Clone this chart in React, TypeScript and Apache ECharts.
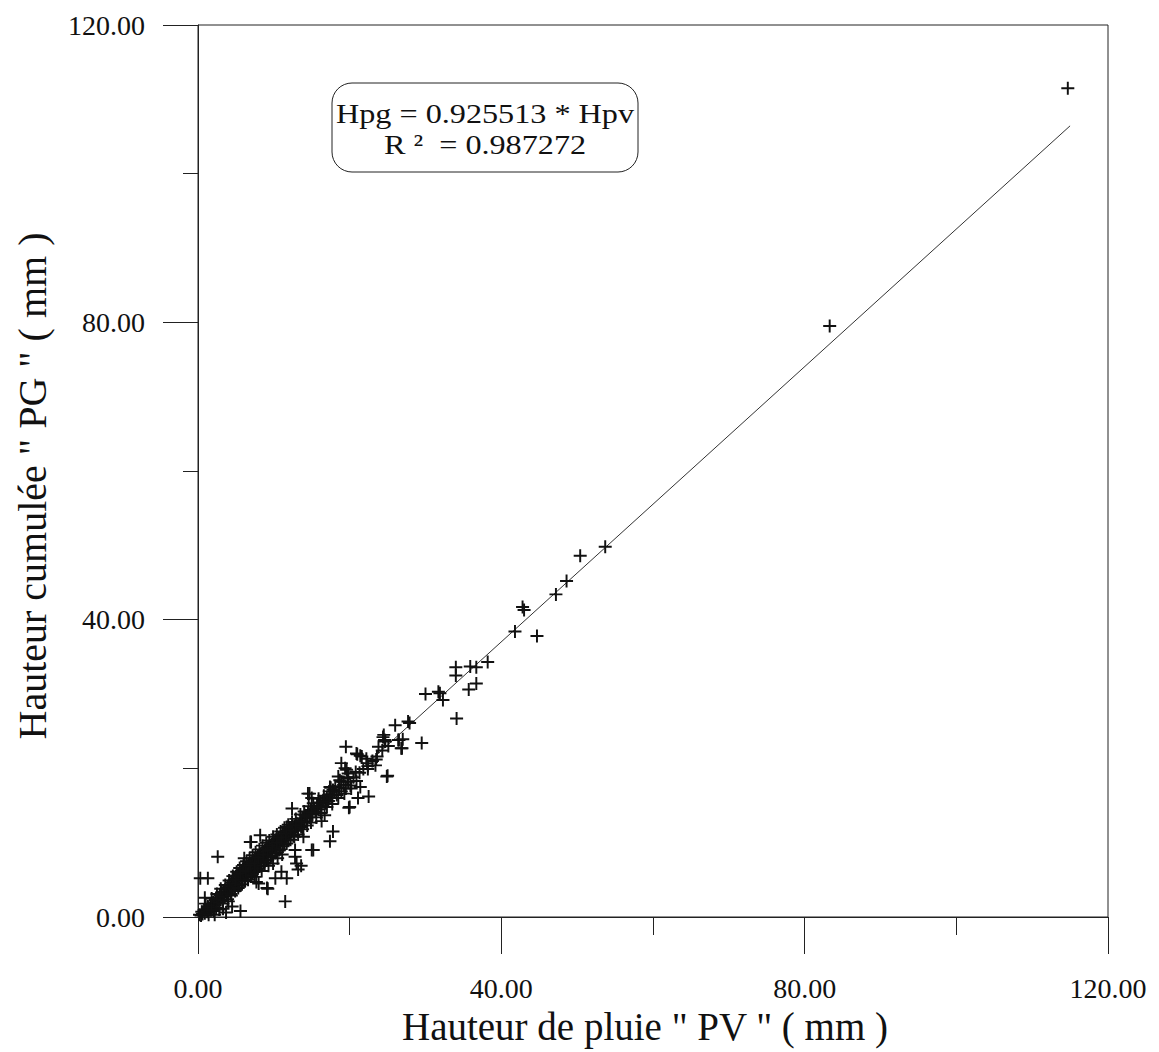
import React, { useEffect, useRef } from "react";
import * as echarts from "echarts";

// Regression reported on the chart
const slope = 0.925513;
const r2 = 0.987272;
const fitX = [0, 115];

const xTicks = [0, 40, 80, 120];
const yTicks = [0, 40, 80, 120];

// Dense band near the origin [PV, PG]
const bandLow: number[][] = [
  [0.2, 0.3], [0.4, 0.2], [0.5, 0.7], [0.6, 0.4], [0.8, 0.9], [0.9, 0.5], [1.1, 1.0], [1.2, 0.7],
  [1.3, 1.4], [1.5, 1.1], [1.6, 0.9], [1.7, 1.6], [1.9, 1.3], [2.0, 2.0], [2.2, 1.6], [2.3, 2.3],
  [2.4, 1.2], [2.5, 2.0], [2.7, 2.6], [2.8, 1.9], [2.9, 2.9], [3.0, 2.3], [3.1, 3.3], [3.2, 2.7],
  [3.3, 1.1], [3.4, 3.4], [3.5, 2.8], [3.6, 3.7], [3.7, 0.6], [3.8, 3.2], [3.9, 4.0], [4.0, 2.1],
  [4.1, 3.6], [4.2, 4.3], [4.3, 3.1], [4.4, 4.6], [4.5, 1.4], [4.6, 4.1], [4.7, 4.9], [4.8, 3.7],
];

const bandMid: number[][] = [
  [4.9, 5.2], [5.0, 4.5], [5.1, 5.6], [5.2, 4.8], [5.3, 5.9], [5.4, 5.0], [5.5, 4.2], [5.6, 5.5],
  [5.7, 6.2], [5.8, 5.1], [5.9, 6.5], [6.0, 5.7], [6.1, 4.9], [6.2, 6.3], [6.3, 5.5], [6.4, 6.9],
  [6.5, 6.0], [6.6, 5.3], [6.7, 7.1], [6.8, 6.4], [6.9, 5.8], [7.0, 7.3], [7.1, 6.6], [7.2, 6.0],
  [7.3, 7.6], [7.4, 6.9], [7.5, 5.4], [7.6, 7.8], [7.7, 7.2], [7.8, 6.4], [7.9, 8.2], [8.0, 7.4],
  [8.1, 6.8], [8.2, 8.5], [8.3, 7.7], [8.4, 6.2], [8.5, 8.7], [8.6, 8.0], [8.7, 7.3], [8.8, 9.0],
  [8.9, 8.3], [9.0, 7.6], [9.1, 9.3], [9.2, 8.5], [9.3, 6.9], [9.4, 9.5], [9.5, 8.8], [9.6, 8.0],
  [9.7, 9.8], [9.8, 9.0], [9.9, 7.2], [10.0, 10.1], [10.1, 9.3], [10.2, 8.6], [10.3, 10.4], [10.4, 9.6],
  [10.5, 7.9], [10.6, 10.6], [10.7, 9.9], [10.8, 9.1], [10.9, 10.9], [11.0, 10.2], [11.1, 8.4], [11.2, 11.1],
  [11.3, 10.5], [11.4, 9.7], [11.5, 11.4], [11.6, 10.8], [11.8, 11.6], [11.9, 10.3], [12.0, 11.2],
];

const bandHigh: number[][] = [
  [12.1, 11.9], [12.3, 11.4], [12.5, 12.2], [12.6, 10.9], [12.8, 12.0], [13.0, 12.6], [13.1, 11.6], [13.3, 12.4],
  [13.5, 13.0], [13.6, 12.1], [13.8, 13.3], [14.0, 12.7], [14.1, 13.7], [14.3, 12.9], [14.5, 14.0], [14.7, 13.4],
  [14.9, 14.4], [15.1, 13.8], [15.3, 14.6], [15.5, 14.2], [15.7, 15.0], [15.9, 14.5], [16.1, 15.4], [16.3, 14.9],
  [16.5, 15.7], [16.8, 15.3], [17.0, 16.1], [17.2, 15.6], [17.5, 16.5], [17.7, 16.0], [18.0, 16.9], [18.3, 16.4],
  [18.6, 17.4], [18.9, 16.9], [19.2, 17.8], [19.5, 17.3], [19.8, 18.2], [20.1, 17.7], [20.5, 18.8], [20.9, 18.3],
  [21.3, 19.4], [21.8, 19.9], [22.4, 20.3], [23.0, 21.0], [23.6, 21.6], [24.3, 22.4], [25.1, 23.0],
];

// Upper and lower edges of the dense band
const bandEdges: number[][] = [
  [1.0, 1.8], [1.4, 0.3], [1.8, 2.5], [2.1, 0.8], [2.5, 3.1], [2.8, 1.0], [3.0, 3.8], [3.3, 1.8],
  [3.6, 4.3], [3.9, 2.4], [4.1, 4.9], [4.4, 2.9], [4.6, 5.5], [4.9, 3.5], [5.1, 6.1], [5.3, 3.9],
  [5.5, 6.6], [5.8, 4.4], [6.0, 7.0], [6.2, 4.8], [6.4, 7.5], [6.6, 5.0], [6.8, 7.9], [7.0, 5.6],
  [7.2, 8.3], [7.4, 6.1], [7.6, 8.7], [7.9, 6.5], [8.1, 9.1], [8.3, 6.9], [8.5, 9.6], [8.8, 7.2],
  [9.0, 10.0], [9.2, 7.7], [9.4, 10.3], [9.7, 8.2], [9.9, 10.8], [10.2, 8.7], [10.4, 11.1], [10.7, 9.0],
  [10.9, 11.5], [11.2, 9.5], [11.4, 12.0], [11.7, 9.9], [11.9, 12.4], [12.2, 10.4], [12.4, 12.8], [12.7, 10.8],
  [12.9, 13.2], [13.2, 11.1], [13.5, 13.8], [13.8, 11.8], [14.0, 14.2], [14.4, 12.3], [14.6, 14.9], [14.9, 12.7],
  [15.2, 15.3], [15.6, 13.4], [15.9, 15.9], [16.2, 14.0], [16.6, 16.3], [17.0, 14.8], [17.3, 16.9], [17.7, 15.2],
  [18.1, 17.6], [18.5, 16.0], [18.9, 18.2], [19.3, 16.6], [19.7, 18.8], [20.2, 17.3],
  [5.0, 5.0], [5.6, 5.8], [6.3, 6.2], [6.9, 6.9], [7.5, 7.2], [8.0, 8.0], [8.6, 8.4], [9.2, 9.0],
  [9.8, 9.6], [10.4, 10.0], [11.0, 10.7], [11.6, 11.2], [12.2, 11.6], [12.9, 12.3], [13.6, 12.8], [14.3, 13.6],
  [15.0, 14.1], [15.8, 14.8], [16.6, 15.5], [17.4, 16.3],
];

// Scattered points away from the band
const lowOutliers: number[][] = [
  [7.0, 10.1], [2.6, 8.1], [6.1, 7.9], [0.3, 5.2], [1.3, 5.2], [7.7, 4.7], [9.1, 3.9], [11.0, 6.1],
  [11.7, 5.2], [11.5, 2.1], [5.6, 0.8], [2.2, 0.3], [0.9, 2.6], [1.3, 1.3], [1.8, 0.9], [13.0, 7.2],
  [13.6, 6.9], [13.2, 6.4], [15.2, 9.0], [12.4, 14.6], [14.5, 16.6], [15.0, 16.0], [17.5, 17.4], [19.4, 20.0],
  [19.8, 18.7], [19.9, 14.7], [16.7, 13.7], [16.3, 12.9], [17.8, 11.5], [17.4, 10.2], [15.0, 9.0], [13.9, 10.8],
  [8.2, 11.0], [6.9, 10.1], [12.8, 8.1], [12.8, 9.0], [11.7, 12.1], [10.2, 5.2], [9.2, 3.8], [8.0, 4.5],
];

const midPoints: number[][] = [
  [26.0, 25.8], [27.7, 26.3], [24.5, 24.5], [24.7, 23.6], [26.4, 23.8], [26.9, 22.7], [29.5, 23.4], [19.5, 22.9],
  [20.9, 22.0], [21.6, 21.6], [18.9, 20.7], [25.0, 19.0], [21.4, 17.5], [21.1, 16.0], [22.5, 16.2], [20.0, 14.8],
  [22.2, 21.3], [22.3, 20.7], [23.5, 21.2], [23.4, 20.4], [22.4, 19.9], [19.6, 19.8], [19.8, 19.3], [20.8, 19.5],
  [24.9, 18.9], [18.5, 18.9], [18.7, 18.4], [17.4, 17.5], [17.8, 17.1], [14.7, 16.6], [23.8, 22.9], [21.0, 21.9],
  [21.4, 21.7], [24.4, 24.2], [24.6, 23.8], [26.5, 23.8], [27.0, 23.9], [26.8, 22.7], [27.9, 26.1], [30.0, 30.0],
  [31.7, 30.3], [31.9, 30.1], [32.3, 29.2], [34.1, 26.7], [34.0, 33.6], [34.0, 32.5], [35.9, 33.7], [36.7, 33.6],
  [36.7, 31.4], [35.7, 30.6], [38.2, 34.3],
];

const highPoints: number[][] = [
  [41.8, 38.4], [44.7, 37.8], [42.8, 41.7], [43.0, 41.3], [47.2, 43.4], [48.6, 45.2], [50.4, 48.6], [53.7, 49.8],
  [83.3, 79.5], [114.7, 111.5],
];

const xName = 'Hauteur de pluie " PV " ( mm )';
const yName = 'Hauteur cumulée " PG " ( mm )';

const FONT = '"Liberation Serif", "Times New Roman", "DejaVu Serif", serif';
const INK = "#111";

const plusSymbol = "path://M4.25,0H5.75V10H4.25Z M0,4.25H10V5.75H0Z";

export default function App() {
  const ref = useRef<HTMLDivElement>(null);

  useEffect(() => {
    if (!ref.current) return;
    const chart = echarts.init(ref.current, null, { renderer: "svg" });
    const allPoints = [
      ...bandLow, ...bandMid, ...bandHigh, ...bandEdges, ...lowOutliers, ...midPoints, ...highPoints,
    ];
    const fmt = (v: number) => v.toFixed(2);
    const boxText = "Hpg = " + slope.toFixed(6) + " * Hpv\nR \u00B2  = " + r2.toFixed(6);

    chart.setOption({
      animation: false,
      backgroundColor: "#fff",
      textStyle: { fontFamily: FONT },
      grid: {
        left: 198,
        top: 25,
        width: 910,
        height: 892,
        show: true,
        borderColor: "#222",
        borderWidth: 1,
        backgroundColor: "transparent",
      },
      xAxis: {
        type: "value",
        min: xTicks[0],
        max: xTicks[xTicks.length - 1],
        interval: xTicks[1] - xTicks[0],
        axisLine: { show: true, onZero: false, lineStyle: { color: "#222", width: 1 } },
        axisTick: { show: true, inside: false, length: 37, lineStyle: { color: "#222", width: 1 } },
        minorTick: { show: true, splitNumber: 2, length: 18, lineStyle: { color: "#222", width: 1 } },
        splitLine: { show: false },
        minorSplitLine: { show: false },
        axisLabel: { margin: 57, fontSize: 28, color: INK, fontFamily: FONT, formatter: fmt },
        name: xName,
        nameLocation: "middle",
        nameGap: 80,
        nameTextStyle: { fontSize: 39, color: INK, fontFamily: FONT, padding: [0, 16, 0, 0] },
      },
      yAxis: {
        type: "value",
        min: yTicks[0],
        max: yTicks[yTicks.length - 1],
        interval: yTicks[1] - yTicks[0],
        axisLine: { show: true, onZero: false, lineStyle: { color: "#222", width: 1 } },
        axisTick: { show: true, inside: false, length: 35, lineStyle: { color: "#222", width: 1 } },
        minorTick: { show: true, splitNumber: 2, length: 15, lineStyle: { color: "#222", width: 1 } },
        splitLine: { show: false },
        minorSplitLine: { show: false },
        axisLabel: { margin: 53, fontSize: 28, color: INK, fontFamily: FONT, formatter: fmt },
        name: yName,
        nameLocation: "middle",
        nameRotate: 90,
        nameGap: 146,
        nameTextStyle: { fontSize: 40, color: INK, fontFamily: FONT, padding: [0, 30, 0, 0] },
      },
      series: [
        {
          type: "line",
          data: fitX.map((x) => [x, slope * x]),
          showSymbol: false,
          symbol: "none",
          lineStyle: { color: "#333", width: 1 },
          z: 1,
        },
        {
          type: "scatter",
          data: allPoints,
          symbol: plusSymbol,
          symbolSize: 13,
          itemStyle: { color: INK, opacity: 1 },
          z: 2,
        },
      ],
      graphic: [
        {
          type: "group",
          z: 100,
          children: [
            {
              type: "rect",
              shape: { x: 332, y: 83, width: 306, height: 89, r: 20 },
              style: { fill: "#fff", stroke: "#222", lineWidth: 1 },
            },
            {
              type: "text",
              x: 485,
              y: 129,
              scaleX: 1.15,
              style: {
                text: boxText,
                font: "28px " + FONT,
                lineHeight: 31,
                fill: INK,
                align: "center",
                verticalAlign: "middle",
              },
            },
          ],
        },
      ],
    });

    return () => chart.dispose();
  }, []);

  return (
    <div
      ref={ref}
      style={{ position: "absolute", left: 0, top: 0, width: 1159, height: 1052, background: "#fff" }}
    />
  );
}
